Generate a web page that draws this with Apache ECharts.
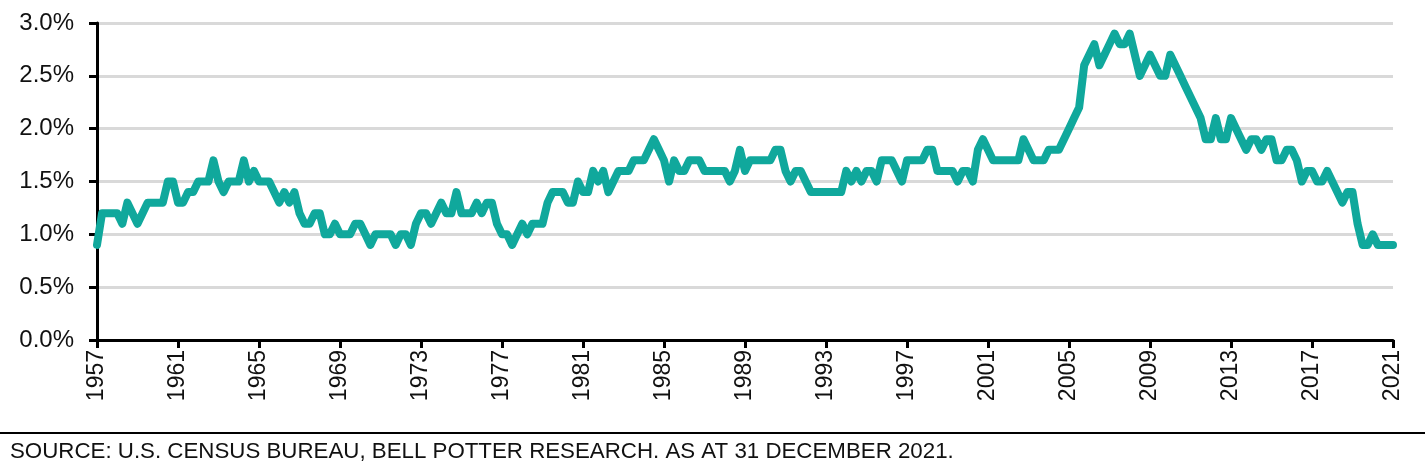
<!DOCTYPE html>
<html>
<head>
<meta charset="utf-8">
<script src="https://cdn.jsdelivr.net/npm/echarts@6/dist/echarts.min.js"></script>
<style>
html,body{margin:0;padding:0;background:#fff;}
#chart{width:1425px;height:476px;}
</style>
</head>
<body>
<div id="chart"></div>
<script>
// Quarterly series, first point labelled 1957, last point labelled 2021
const startYear = 1957;
const vacancyRate = [
  0.9,1.2,1.2,1.2, 1.2,1.1,1.3,1.2, 1.1,1.2,1.3,1.3, 1.3,1.3,1.5,1.5,
  1.3,1.3,1.4,1.4, 1.5,1.5,1.5,1.7, 1.5,1.4,1.5,1.5, 1.5,1.7,1.5,1.6,
  1.5,1.5,1.5,1.4, 1.3,1.4,1.3,1.4, 1.2,1.1,1.1,1.2, 1.2,1.0,1.0,1.1,
  1.0,1.0,1.0,1.1, 1.1,1.0,0.9,1.0, 1.0,1.0,1.0,0.9, 1.0,1.0,0.9,1.1,
  1.2,1.2,1.1,1.2, 1.3,1.2,1.2,1.4, 1.2,1.2,1.2,1.3, 1.2,1.3,1.3,1.1,
  1.0,1.0,0.9,1.0, 1.1,1.0,1.1,1.1, 1.1,1.3,1.4,1.4, 1.4,1.3,1.3,1.5,
  1.4,1.4,1.6,1.5, 1.6,1.4,1.5,1.6, 1.6,1.6,1.7,1.7, 1.7,1.8,1.9,1.8,
  1.7,1.5,1.7,1.6, 1.6,1.7,1.7,1.7, 1.6,1.6,1.6,1.6, 1.6,1.5,1.6,1.8,
  1.6,1.7,1.7,1.7, 1.7,1.7,1.8,1.8, 1.6,1.5,1.6,1.6, 1.5,1.4,1.4,1.4,
  1.4,1.4,1.4,1.4, 1.6,1.5,1.6,1.5, 1.6,1.6,1.5,1.7, 1.7,1.7,1.6,1.5,
  1.7,1.7,1.7,1.7, 1.8,1.8,1.6,1.6, 1.6,1.6,1.5,1.6, 1.6,1.5,1.8,1.9,
  1.8,1.7,1.7,1.7, 1.7,1.7,1.7,1.9, 1.8,1.7,1.7,1.7, 1.8,1.8,1.8,1.9,
  2.0,2.1,2.2,2.6, 2.7,2.8,2.6,2.7, 2.8,2.9,2.8,2.8, 2.9,2.7,2.5,2.6,
  2.7,2.6,2.5,2.5, 2.7,2.6,2.5,2.4, 2.3,2.2,2.1,1.9, 1.9,2.1,1.9,1.9,
  2.1,2.0,1.9,1.8, 1.9,1.9,1.8,1.9, 1.9,1.7,1.7,1.8, 1.8,1.7,1.5,1.6,
  1.6,1.5,1.5,1.6, 1.5,1.4,1.3,1.4, 1.4,1.1,0.9,0.9, 1.0,0.9,0.9,0.9,
  0.9
];
const quarterLabels = vacancyRate.map((_, i) => String(startYear + Math.floor(i / 4)) + ' Q' + (i % 4 + 1));
const yTicks = [0, 0.5, 1.0, 1.5, 2.0, 2.5, 3.0];
const sourceNote = 'SOURCE: U.S. CENSUS BUREAU, BELL POTTER RESEARCH. AS AT 31 DECEMBER 2021.';

const FONT = '"Liberation Sans", Arial, sans-serif';
const chart = echarts.init(document.getElementById('chart'), null, {renderer: 'canvas'});
chart.setOption({
  animation: false,
  backgroundColor: '#ffffff',
  grid: {left: 97, right: 32, top: 23, bottom: 136, containLabel: false},
  xAxis: {
    type: 'category',
    data: quarterLabels,
    boundaryGap: false,
    axisLine: {show: true, onZero: false, lineStyle: {color: '#000', width: 3}},
    axisTick: {show: true, interval: 15, length: 8, lineStyle: {color: '#000', width: 3}},
    axisLabel: {
      interval: 15, rotate: 90, margin: 10,
      color: '#111', fontFamily: FONT, fontSize: 23,
      formatter: v => v.slice(0, 4)
    },
    splitLine: {show: false}
  },
  yAxis: {
    type: 'value',
    min: yTicks[0], max: yTicks[yTicks.length - 1], interval: 0.5,
    axisLine: {show: true, lineStyle: {color: '#000', width: 3}},
    axisTick: {show: true, length: 8, lineStyle: {color: '#000', width: 3}},
    axisLabel: {
      margin: 23, color: '#111', fontFamily: FONT, fontSize: 24,
      formatter: v => v.toFixed(1) + '%'
    },
    splitLine: {show: true, lineStyle: {color: '#d9d9d9', width: 3}}
  },
  series: [{
    type: 'line',
    data: vacancyRate,
    showSymbol: false,
    symbol: 'none',
    lineStyle: {color: '#10a89c', width: 8, join: 'round', cap: 'round'},
    z: 3
  }],
  graphic: [
    {type: 'rect', left: 0, top: 432, shape: {width: 1425, height: 2}, style: {fill: '#000'}},
    {type: 'text', left: 10, top: 441, style: {text: sourceNote, fill: '#111', font: '22.3px ' + FONT}}
  ]
});
</script>
</body>
</html>
